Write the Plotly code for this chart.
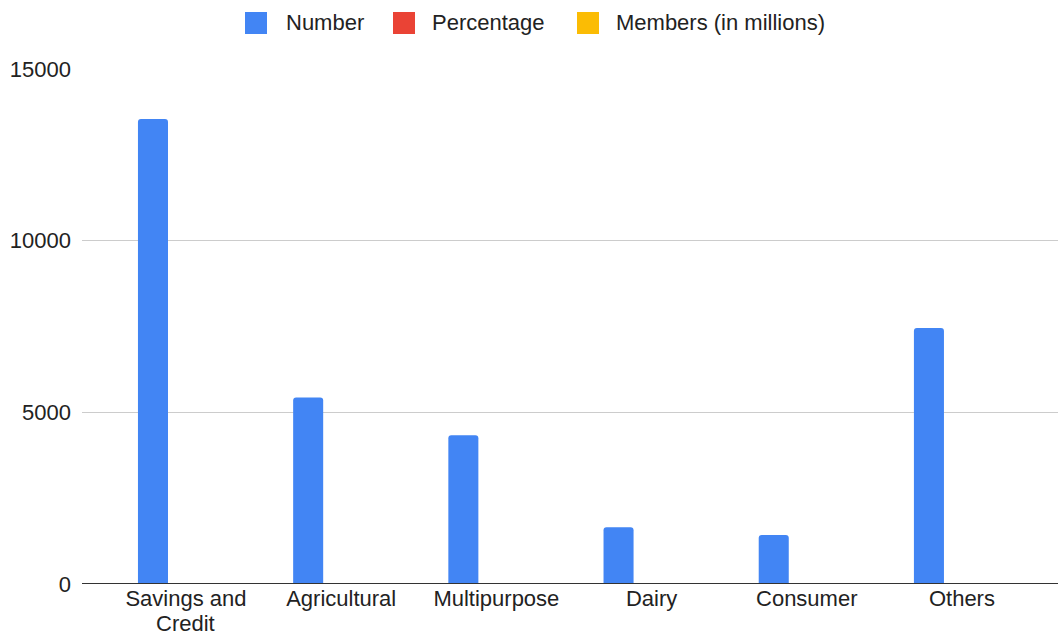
import plotly.graph_objects as go

# ---- data ----
categories = ["Savings and Credit", "Agricultural", "Multipurpose", "Dairy", "Consumer", "Others"]
label_lines = [["Savings and", "Credit"], ["Agricultural"], ["Multipurpose"], ["Dairy"], ["Consumer"], ["Others"]]
number = [13545, 5435, 4330, 1650, 1430, 7455]
percentage = [0.40, 0.16, 0.13, 0.05, 0.04, 0.22]
members = [9.5, 4.1, 3.2, 1.8, 0.9, 5.3]
series_names = ["Number", "Percentage", "Members (in millions)"]
series_values = [number, percentage, members]
series_colors = ["#4285F4", "#EA4335", "#FBBC04"]
y_ticks = [0, 5000, 10000, 15000]

W, H = 1058, 637
ML, MR, MT, MB = 82, 0, 69, 53
PW, PH = W - ML - MR, H - MT - MB
FONT = "Liberation Sans, Arial, sans-serif"

def px_x(px):
    return (px - ML) / PW

def px_y(py):
    return (H - MB - py) / PH

fig = go.Figure()
for i, (name, vals, col) in enumerate(zip(series_names, series_values, series_colors)):
    fig.add_trace(go.Bar(x=categories, y=vals, name=name,
                         marker=dict(color=col, line=dict(width=0), cornerradius=3 if i == 0 else 0),
                         showlegend=False))

# manual legend (matches the large square swatches of the original)
sq_left = [245, 393, 577]
txt_left = [284, 430, 614]
shapes = []
annotations = []
for name, col, sx, tx in zip(series_names, series_colors, sq_left, txt_left):
    shapes.append(dict(type="rect", xref="paper", yref="paper",
                       x0=px_x(sx), x1=px_x(sx + 22), y0=px_y(34), y1=px_y(12),
                       fillcolor=col, line=dict(width=0), layer="above"))
    annotations.append(dict(text=name, xref="paper", yref="paper", x=px_x(tx), y=px_y(23),
                            xanchor="left", yanchor="middle", showarrow=False,
                            font=dict(family=FONT, size=22, color="#222222")))

# baseline drawn above the bars
shapes.append(dict(type="line", xref="paper", yref="y", x0=0, x1=1, y0=0, y1=0,
                   line=dict(color="#333333", width=2), layer="above"))

# extra wrapped lines of category labels
for cat, lines in zip(categories, label_lines):
    for k, ln in enumerate(lines[1:], start=1):
        annotations.append(dict(text=ln, xref="x", yref="paper", x=cat,
                                y=px_y(637 - (len(lines) - 1 - k) * 21),
                                xanchor="center", yanchor="bottom", showarrow=False, borderpad=0,
                                font=dict(family=FONT, size=22, color="#222222")))

fig.update_layout(
    width=W, height=H, autosize=False,
    margin=dict(l=ML, r=MR, t=MT, b=MB),
    paper_bgcolor="white", plot_bgcolor="white",
    barmode="group", bargap=0.362, bargroupgap=0.09,
    font=dict(family=FONT, size=22, color="#222222"),
    shapes=shapes, annotations=annotations,
    xaxis=dict(type="category", range=[-0.670, 5.619], tickmode="array",
               tickvals=categories, ticktext=[l[0] for l in label_lines],
               showline=False, ticks="", ticklabelstandoff=-1,
               showgrid=False, tickfont=dict(family=FONT, size=22, color="#222222")),
    yaxis=dict(range=[0, 15000], tickvals=y_ticks, tickformat="d", showgrid=True,
               gridcolor="#cccccc", gridwidth=1, zeroline=False, showline=False, ticks="",
               ticklabelstandoff=10, tickfont=dict(family=FONT, size=22, color="#222222")),
)

fig.write_html("out.html")
